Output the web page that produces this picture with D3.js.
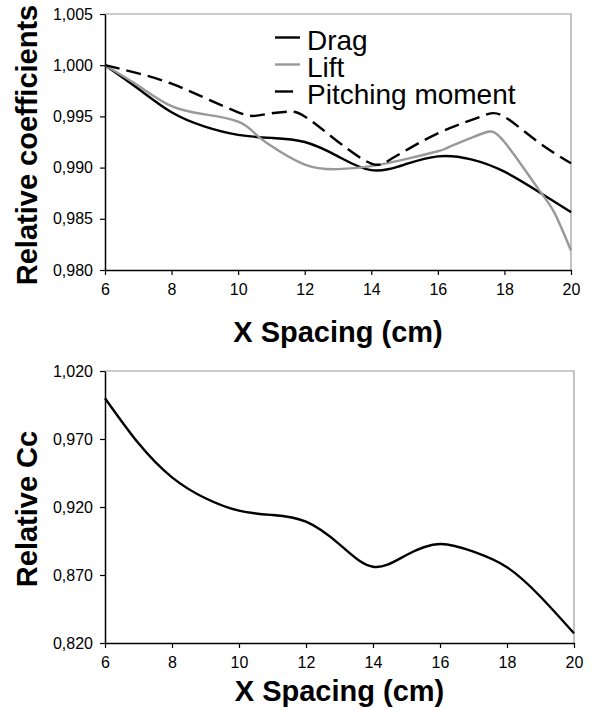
<!DOCTYPE html>
<html>
<head>
<meta charset="utf-8">
<script src="https://cdn.jsdelivr.net/npm/d3@7"></script>
<style>
  body { margin: 0; background: #fff; }
  text { font-family: Arial, "Liberation Sans", sans-serif; }
</style>
</head>
<body>
<div id="chart"></div>
<script>
// x spacing ticks (cm)
const xTicks = [6, 8, 10, 12, 14, 16, 18, 20]
const topYTicks = [0.980, 0.985, 0.990, 0.995, 1.000, 1.005]
const bottomYTicks = [0.820, 0.870, 0.920, 0.970, 1.020]

// relative coefficients
const dragX = [6, 7, 8, 9, 10, 11, 12, 13, 14, 15, 16, 17, 18, 19, 20]
const drag = [1.0000, 0.9977, 0.9954, 0.9940, 0.9932, 0.9929, 0.9925, 0.9911, 0.98975, 0.9903, 0.9911, 0.9908, 0.9896, 0.9877, 0.98565]

const liftX = [6, 7, 8, 9, 10, 10.5, 11, 12, 13, 14, 15, 16, 16.3, 17, 17.5, 18, 19, 19.5, 20]
const lift = [1.0000, 0.9980, 0.9960, 0.9952, 0.9945, 0.99335, 0.9921, 0.9903, 0.98985, 0.99015, 0.9908, 0.9916, 0.99195, 0.9929, 0.9935, 0.9925, 0.9880, 0.9856, 0.9819]

const pitchX = [6, 7, 8, 9, 10, 10.5, 11, 11.5, 12, 13, 14, 14.5, 15, 16, 17, 17.5, 18, 19, 20]
const pitch = [1.0000, 0.9992, 0.9982, 0.9968, 0.9954, 0.99505, 0.9953, 0.99546, 0.9950, 0.99253, 0.9904, 0.99064, 0.9916, 0.99335, 0.99464, 0.99523, 0.99497, 0.99253, 0.99042]

// relative Cc
const ccX = [6, 7, 8, 9, 10, 11, 12, 13, 14, 15, 16, 17, 18, 19, 20]
const cc = [1.000, 0.9668, 0.9418, 0.9264, 0.9173, 0.9141, 0.9092, 0.8925, 0.8761, 0.8847, 0.8928, 0.8871, 0.8757, 0.854, 0.8271]

const seriesNames = ['Drag', 'Lift', 'Pitching moment']

const locale = d3.formatLocale({ decimal: ',', thousands: '.', grouping: [3], currency: ['', ''] })
const fmt = locale.format('.3f')

const svg = d3.select('#chart')
    .append('svg')
    .attr('width', 592)
    .attr('height', 710)

svg.append('rect')
    .attr('width', 592)
    .attr('height', 710)
    .attr('fill', '#fff')

function drawPanel(box, yDomain, yTicks, yTitle, titleY, xTitleY) {
    const x = d3.scaleLinear().domain([6, 20]).range([box.left, box.right])
    const y = d3.scaleLinear().domain(yDomain).range([box.bottom, box.top])

    // grey frame on top and right
    svg.append('path')
        .attr('d', `M${box.left},${box.top}H${box.right}V${box.bottom}`)
        .attr('fill', 'none')
        .attr('stroke', '#9a9a9a')
        .attr('stroke-width', 1.2)

    const xAxis = svg.append('g')
        .attr('transform', `translate(0,${box.bottom})`)
        .call(d3.axisBottom(x).tickValues(xTicks).tickSize(5).tickPadding(9).tickSizeOuter(0))
    const yAxis = svg.append('g')
        .attr('transform', `translate(${box.left},0)`)
        .call(d3.axisLeft(y).tickValues(yTicks).tickFormat(fmt).tickSize(5).tickPadding(7).tickSizeOuter(0))

    for (const g of [xAxis, yAxis]) {
        g.select('.domain').attr('stroke', '#000').attr('stroke-width', 1.5)
        g.selectAll('.tick line').attr('stroke', '#000').attr('stroke-width', 1.2)
        g.selectAll('.tick text').attr('fill', '#000').style('font-size', '16px')
    }

    svg.append('text')
        .attr('x', (box.left + box.right) / 2)
        .attr('y', xTitleY)
        .attr('text-anchor', 'middle')
        .style('font-size', '29px')
        .style('font-weight', 'bold')
        .text('X Spacing (cm)')

    svg.append('text')
        .attr('transform', `translate(37,${titleY}) rotate(-90)`)
        .attr('text-anchor', 'middle')
        .style('font-size', '29px')
        .style('font-weight', 'bold')
        .text(yTitle)

    return { x, y }
}

function drawLine(sc, xs, ys, color, dash) {
    const line = d3.line()
        .x((d, i) => sc.x(xs[i]))
        .y(d => sc.y(d))
        .curve(d3.curveNatural)
    svg.append('path')
        .datum(ys)
        .attr('d', line)
        .attr('fill', 'none')
        .attr('stroke', color)
        .attr('stroke-width', 2.4)
        .attr('stroke-dasharray', dash)
}

// upper panel
const upper = drawPanel({ left: 105, right: 571, top: 14, bottom: 270 }, [0.980, 1.005], topYTicks, 'Relative coefficients', 145, 342)
drawLine(upper, dragX, drag, '#000', null)
drawLine(upper, liftX, lift, '#999', null)
drawLine(upper, pitchX, pitch, '#000', '15,7')

// legend
const legendStyles = [
    { color: '#000', dash: null },
    { color: '#999', dash: null },
    { color: '#000', dash: '18,20' },
]
seriesNames.forEach((name, i) => {
    const ly = 37.5 + i * 27
    svg.append('line')
        .attr('x1', 275).attr('x2', 300)
        .attr('y1', ly).attr('y2', ly)
        .attr('stroke', legendStyles[i].color)
        .attr('stroke-width', 2.4)
        .attr('stroke-dasharray', legendStyles[i].dash)
    svg.append('text')
        .attr('x', 307)
        .attr('y', ly + 12)
        .style('font-size', '28px')
        .text(name)
})

// lower panel
const lower = drawPanel({ left: 105, right: 574, top: 371, bottom: 643 }, [0.820, 1.020], bottomYTicks, 'Relative Cc', 509, 701)
drawLine(lower, ccX, cc, '#000', null)
</script>
</body>
</html>
